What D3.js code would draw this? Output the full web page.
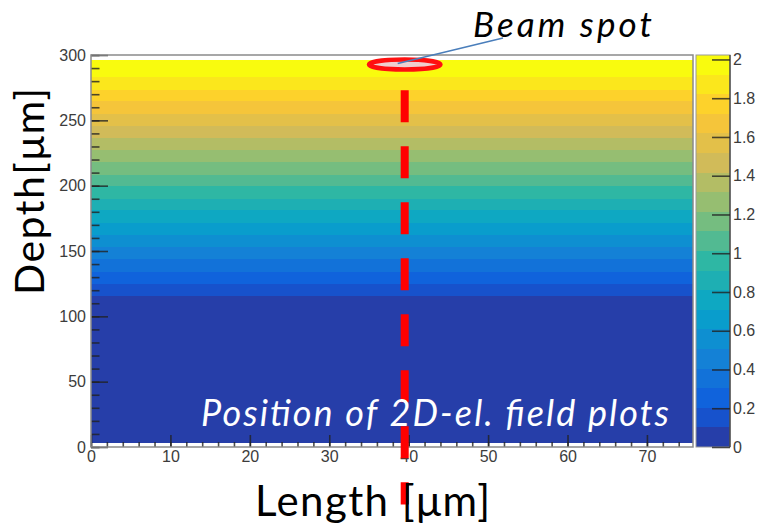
<!DOCTYPE html>
<html>
<head>
<meta charset="utf-8">
<script src="https://cdn.jsdelivr.net/npm/d3@7"></script>
<style>
body { margin: 0; background: #fff; }
svg { display: block; }
</style>
</head>
<body>
<div id="chart"></div>
<script>
// values
var xTicks = [0, 10, 20, 30, 40, 50, 60, 70];
var xMinor = d3.range(0, 76, 2);
var yTicks = [0, 50, 100, 150, 200, 250, 300];
var yMinor = d3.range(0, 301, 10);
var zTicks = [0, 0.2, 0.4, 0.6, 0.8, 1, 1.2, 1.4, 1.6, 1.8, 2];
var lengthRange = [0, 75.8];
var depthRange = [0, 300];
var zRange = [0, 2.023];
// depth (um) where each of the 20 field contour bands begins, bottom to top
var bandDepths = [3, 115.5, 125, 134, 143.5, 153, 162, 171.5, 181, 190, 199.5,
                  208.5, 218, 227, 236.5, 246, 255, 264.5, 273.5, 283];
var sensorTop = 296;
// beam spot and the vertical cut
var beamX = 39.5, beamDepth = 292.7, beamHalfWidth = 4.5;
var cutDepths = [273, -44];

// ROOT kBird palette
var birdStops = [0, 0.125, 0.25, 0.375, 0.5, 0.625, 0.75, 0.875, 1];
var birdColors = ["rgb(53,42,135)", "rgb(15,92,221)", "rgb(20,129,214)", "rgb(6,164,202)",
                  "rgb(46,183,164)", "rgb(135,191,119)", "rgb(209,187,89)", "rgb(254,200,50)",
                  "rgb(249,251,14)"];
var bird = d3.scaleLinear().domain(birdStops).range(birdColors).interpolate(d3.interpolateRgb);
var nBands = bandDepths.length;
function bandColor(i) { return bird((i + 1) / nBands); }

var W = 759, H = 528;
var svg = d3.select("#chart").append("svg")
    .attr("width", W).attr("height", H)
    .style("font-family", "'Liberation Sans', Arial, sans-serif");

var x = d3.scaleLinear().domain(lengthRange).range([91, 693]);
var y = d3.scaleLinear().domain(depthRange).range([447, 55]);
var z = d3.scaleLinear().domain(zRange).range([447, 55]);

// field bands
var bands = bandDepths.map(function(d, i) {
    return {lo: d, hi: i < nBands - 1 ? bandDepths[i + 1] : sensorTop, i: i};
});
svg.append("g").selectAll("rect")
    .data(bands).enter().append("rect")
    .attr("x", x(lengthRange[0]))
    .attr("width", x(lengthRange[1]) - x(lengthRange[0]))
    .attr("y", function(d) { return y(d.hi); })
    .attr("height", function(d) { return y(d.lo) - y(d.hi); })
    .attr("fill", function(d) { return bandColor(d.i); })
    .attr("shape-rendering", "crispEdges");

// axis ticks
function styleAxis(g) {
    g.select(".domain").remove();
    g.selectAll(".tick line").attr("stroke", "#222").attr("stroke-width", 1.6).attr("stroke-opacity", 0.8);
    g.selectAll(".tick text").attr("fill", "#3c3c3c").style("font-size", "16px");
}
svg.append("g").attr("transform", "translate(91,0)")
    .call(d3.axisLeft(y).tickValues(yMinor).tickSize(-8.5).tickFormat(""))
    .call(styleAxis);
svg.append("g").attr("transform", "translate(91,0)")
    .call(d3.axisLeft(y).tickValues(yTicks).tickSize(-17).tickPadding(5))
    .call(styleAxis);
svg.append("g").attr("transform", "translate(0,447)")
    .call(d3.axisBottom(x).tickValues(xMinor).tickSize(-5).tickFormat(""))
    .call(styleAxis);
svg.append("g").attr("transform", "translate(0,447)")
    .call(d3.axisBottom(x).tickValues(xTicks).tickSize(-12).tickPadding(4))
    .call(styleAxis);

// frame
svg.append("rect")
    .attr("x", 91).attr("y", 55).attr("width", 602).attr("height", 392)
    .attr("fill", "none").attr("stroke", "#8a8a8a").attr("stroke-width", 1.5);

// colour bar
var zBands = d3.range(nBands).map(function(i) {
    return {lo: zRange[1] * i / nBands, hi: zRange[1] * (i + 1) / nBands, i: i};
});
svg.append("g").selectAll("rect")
    .data(zBands).enter().append("rect")
    .attr("x", 696).attr("width", 34)
    .attr("y", function(d) { return z(d.hi); })
    .attr("height", function(d) { return z(d.lo) - z(d.hi); })
    .attr("fill", function(d) { return bandColor(d.i); })
    .attr("shape-rendering", "crispEdges");
svg.append("rect")
    .attr("x", 696).attr("y", 55).attr("width", 34).attr("height", 392)
    .attr("fill", "none").attr("stroke", "#9a9a9a").attr("stroke-width", 1);
svg.append("line")
    .attr("x1", 730).attr("x2", 730).attr("y1", 55).attr("y2", 447)
    .attr("stroke", "#333").attr("stroke-width", 1.2);
svg.append("g").attr("transform", "translate(730,0)")
    .call(d3.axisRight(z).tickValues(zTicks).tickSize(-18).tickPadding(3).tickFormat(d3.format("~g")))
    .call(styleAxis);

// dashed cut line
svg.append("line")
    .attr("x1", x(beamX)).attr("x2", x(beamX))
    .attr("y1", y(cutDepths[0])).attr("y2", y(cutDepths[1]))
    .attr("stroke", "#ff0000").attr("stroke-width", 8)
    .attr("stroke-dasharray", "32,24");

// beam spot
svg.append("ellipse")
    .attr("cx", x(beamX)).attr("cy", y(beamDepth))
    .attr("rx", x(beamX + beamHalfWidth) - x(beamX)).attr("ry", 5)
    .attr("fill", "#efcfcf").attr("stroke", "#ff1010").attr("stroke-width", 4.5);
svg.append("line")
    .attr("x1", x(beamX) - 7).attr("y1", y(beamDepth) - 1)
    .attr("x2", 503).attr("y2", 38)
    .attr("stroke", "#4a7ebb").attr("stroke-width", 1.5);

// annotation texts, stretched to the reference widths
var annoFont = "Lato, 'Open Sans', sans-serif";

svg.append("text")
    .attr("x", 473).attr("y", 37)
    .attr("textLength", 179).attr("lengthAdjust", "spacing")
    .style("font-family", annoFont).style("font-style", "italic")
    .style("font-size", "35px").attr("fill", "#000")
    .text("Beam spot");

svg.append("text")
    .attr("x", 201).attr("y", 426)
    .attr("textLength", 468).attr("lengthAdjust", "spacing")
    .style("font-family", annoFont).style("font-style", "italic")
    .style("font-size", "36px").attr("fill", "#fff")
    .text("Position of 2D-el. field plots");

svg.append("text")
    .attr("transform", "translate(44,191.5) rotate(-90)")
    .attr("text-anchor", "middle")
    .attr("textLength", 207).attr("lengthAdjust", "spacing")
    .style("font-family", annoFont)
    .style("font-size", "41px").attr("fill", "#000")
    .text("Depth[\u03bcm]");

svg.append("text")
    .attr("x", 372.5).attr("y", 516)
    .attr("text-anchor", "middle")
    .attr("textLength", 235).attr("lengthAdjust", "spacing")
    .style("font-family", annoFont)
    .style("font-size", "42px").attr("fill", "#000")
    .text("Length [\u03bcm]");
</script>
</body>
</html>
